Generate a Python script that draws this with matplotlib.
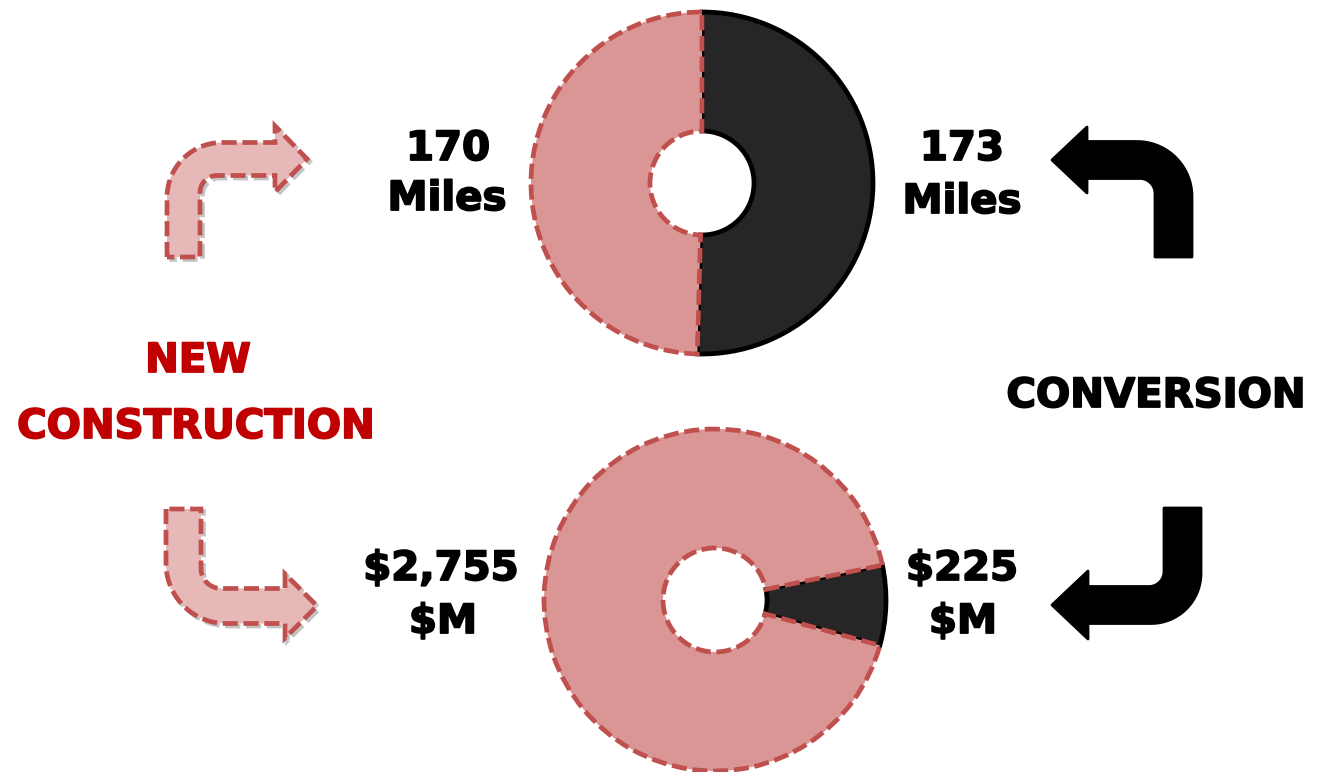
import numpy as np
import matplotlib
matplotlib.use('Agg')
import matplotlib.pyplot as plt
import matplotlib.patheffects as pe
from matplotlib.path import Path
from matplotlib.patches import PathPatch

# data
miles = [173, 170]          # conversion, new construction
cost = [225, 2755]          # $M: conversion, new construction
miles_text = [['173', 'Miles'], ['170', 'Miles']]
cost_text = [['$225', '$M'], ['$2,755', '$M']]
side_titles = [['NEW', 'CONSTRUCTION'], ['CONVERSION']]

W, H = 1319, 772
pink = '#d99694'
red_edge = '#c0504d'
dark = '#262626'
arrow_pink = '#e6b9b8'
dash = (0, (3.2, 1.2))

plt.rcParams['font.family'] = ['DejaVu Sans']

fig = plt.figure(figsize=(W / 100, H / 100), dpi=100)
ax = fig.add_axes([0, 0, 1, 1])


def style_wedges(wedges):
    # dark slice has a solid black outline, pink ones a dashed red one
    for wd in wedges:
        if wd.get_facecolor()[0] < 0.5:
            wd.set_edgecolor('black')
            wd.set_linestyle('-')
        else:
            wd.set_edgecolor(red_edge)
            wd.set_linestyle(dash)
        wd.set_linewidth(3.4)
        wd.set_capstyle('butt')


w1, _ = ax.pie(miles, colors=[dark, pink], startangle=90, counterclock=False,
               center=(702, H - 183), radius=171,
               wedgeprops=dict(width=119))
style_wedges(w1)

w2, _ = ax.pie(cost, colors=[dark, pink], startangle=-15.4, counterclock=True,
               center=(715, H - 600), radius=171,
               wedgeprops=dict(width=119))
style_wedges(w2)


def bent_arrow(ox, oy, sx, sy, w, h, length, head_len, head_half, r_out, r_in, n=24):
    # local frame: vertical shaft starts at (0,0), turns and runs along x
    yt = h + w / 2
    yb = h - w / 2
    pts = [(0, 0), (0, yt - r_out)]
    a = np.linspace(np.pi, np.pi / 2, n)
    pts += list(zip(r_out + r_out * np.cos(a), yt - r_out + r_out * np.sin(a)))
    pts += [(length, yt), (length, h + head_half), (length + head_len, h),
            (length, h - head_half), (length, yb)]
    a = np.linspace(np.pi / 2, np.pi, n)
    pts += list(zip(w + r_in + r_in * np.cos(a), yb - r_in + r_in * np.sin(a)))
    pts += [(w, 0), (0, 0)]
    pts = np.array(pts)
    x = ox + sx * pts[:, 0]
    y = oy + sy * pts[:, 1]
    return np.column_stack([x, H - y])


pink_arrows = [
    bent_arrow(167, 257, 1, -1, 33, 98, 108, 32, 33, 55, 17),
    bent_arrow(166, 509, 1, 1, 35, 97, 119, 32, 32, 60, 20),
]
black_arrows = [
    bent_arrow(1192, 257, -1, -1, 37, 97, 105, 35, 33, 55, 15),
    bent_arrow(1201, 508, -1, 1, 37, 97, 113, 36, 34, 50, 15),
]

for v in pink_arrows:
    sh = v + np.array([2.5, -2.5])
    ax.add_patch(PathPatch(Path(sh, closed=True), facecolor='none',
                           edgecolor='#8a8a8a', lw=3.4, ls=dash, alpha=0.5))
    ax.add_patch(PathPatch(Path(v, closed=True), facecolor=arrow_pink,
                           edgecolor=red_edge, lw=3.4, ls=dash, capstyle='butt'))
for v in black_arrows:
    ax.add_patch(PathPatch(Path(v, closed=True), facecolor='black',
                           edgecolor='black', lw=2, joinstyle='round'))

fs = 29
fw = 'bold'


def label(x, y, s, color='black'):
    ax.text(x, H - y, s, ha='center', va='baseline', fontsize=fs, fontweight=fw,
            color=color,
            path_effects=[pe.withStroke(linewidth=1.3, foreground=color)])


# value labels
label(962, 160, miles_text[0][0])
label(962, 213, miles_text[0][1])
label(448, 160, miles_text[1][0])
label(447, 210, miles_text[1][1])
label(962, 580, cost_text[0][0])
label(963, 633, cost_text[0][1])
label(441, 580, cost_text[1][0])
label(443, 633, cost_text[1][1])

# side titles
label(198, 372, side_titles[0][0], '#c00000')
label(196, 438, side_titles[0][1], '#c00000')
label(1156, 407, side_titles[1][0])

ax.set_xlim(0, W)
ax.set_ylim(0, H)
ax.set_aspect('equal')
ax.axis('off')

fig.savefig('out.png', dpi=100)
